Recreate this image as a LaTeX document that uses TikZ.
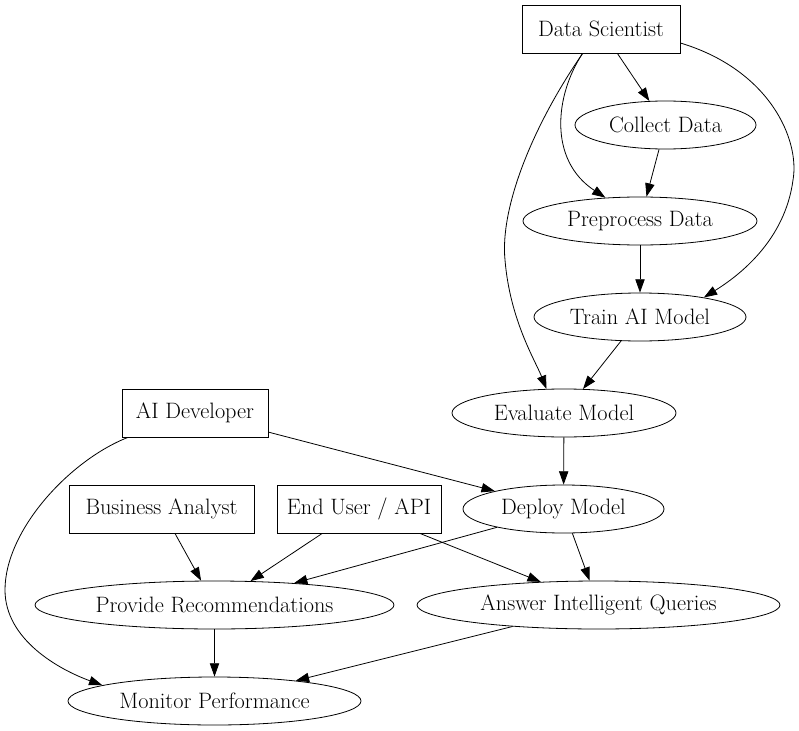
\documentclass[tikz,border=0pt]{standalone}
\usetikzlibrary{arrows.meta,shapes.geometric}
\begin{document}
\begin{tikzpicture}[x=0.75pt,y=-0.75pt,
  every node/.style={font=\fontsize{16.7}{20}\selectfont},
  boxn/.style={draw,rectangle,minimum height=36pt,inner sep=0pt},
  elln/.style={draw,ellipse,minimum height=36pt,inner sep=0pt},
  arr/.style={-{Triangle[length=10pt,width=7pt]},line width=0.6pt},
  line width=0.6pt]
\useasboundingbox (0,0) rectangle (799,731);
\node[boxn,minimum width=118.5pt] (ds) at (601,29) {Data Scientist};
\node[elln,minimum width=135.75pt] (cd) at (665.5,125) {Collect Data};
\node[elln,minimum width=175.5pt] (pp) at (640,221) {Preprocess Data};
\node[elln,minimum width=159pt] (tm) at (640,317) {Train AI Model};
\node[elln,minimum width=168pt] (em) at (564,413) {Evaluate Model};
\node[boxn,minimum width=109.5pt] (ad) at (195,413) {AI Developer};
\node[boxn,minimum width=138.75pt] (ba) at (161.5,509) {Business Analyst};
\node[boxn,minimum width=123pt] (eu) at (359,509) {End User / API};
\node[elln,minimum width=150.75pt] (dm) at (563.5,509) {Deploy Model};
\node[elln,minimum width=272.25pt] (aq) at (598.5,605) {Answer Intelligent Queries};
\node[elln,minimum width=269.25pt] (pr) at (214.5,605) {Provide Recommendations};
\node[elln,minimum width=219.75pt] (mp) at (214.5,701) {Monitor Performance};

\draw[arr] (ds) -- (cd);
\draw[arr] (ds.233) .. controls (555,95) and (548,160) .. (pp.146.7);
\draw[arr] (ds.233) .. controls (530,130) and (500,210) .. (505,260) .. controls (510,320) and (535,360) .. (em.126.9);
\draw[arr] (ds.-10) .. controls (770,70) and (800,140) .. (793,180) .. controls (785,240) and (740,275) .. (tm.17.6);
\draw[arr] (cd) -- (pp);
\draw[arr] (pp) -- (tm);
\draw[arr] (tm) -- (em);
\draw[arr] (em) -- (dm);
\draw[arr] (ad) -- (dm);
\draw[arr] (ad.200) .. controls (70,460) and (5,530) .. (5,590) .. controls (5,640) and (60,670) .. (mp.172);
\draw[arr] (ba) -- (pr);
\draw[arr] (eu) -- (pr);
\draw[arr] (eu) -- (aq);
\draw[arr] (dm) -- (pr);
\draw[arr] (dm) -- (aq);
\draw[arr] (pr) -- (mp);
\draw[arr] (aq) -- (mp);
\end{tikzpicture}
\end{document}
